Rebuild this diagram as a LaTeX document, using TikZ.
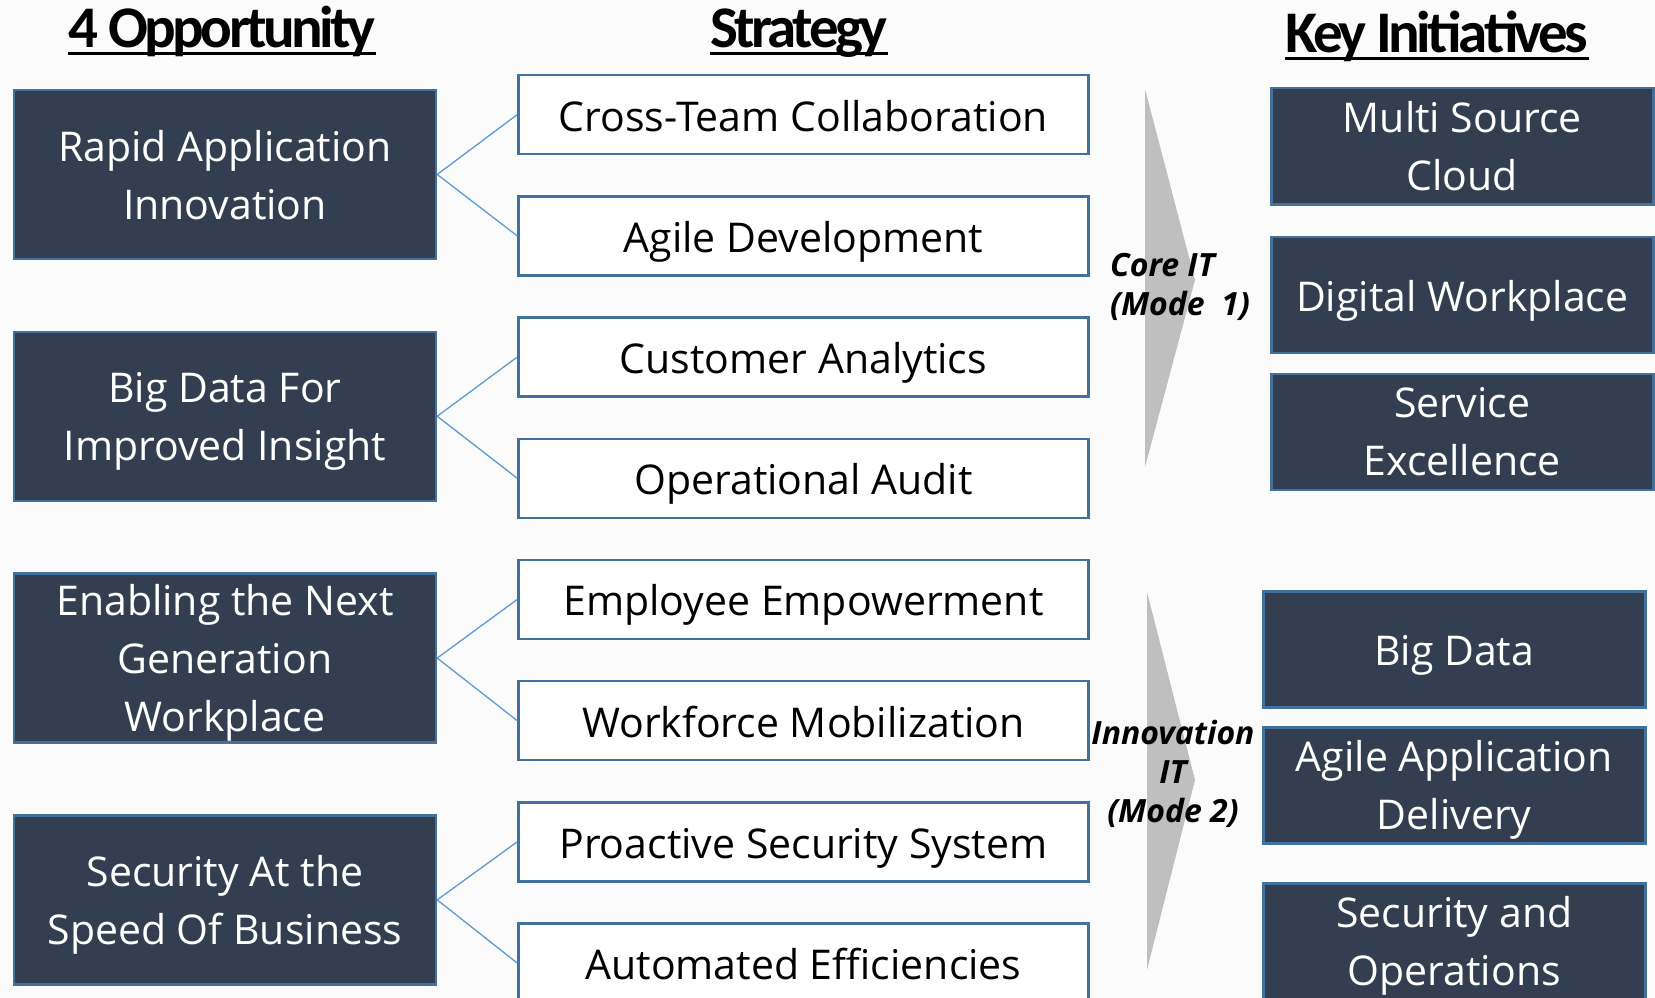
\documentclass[tikz,border=0pt]{standalone}
\usepackage{fontspec}
\setmainfont{Open Sans}
\newfontfamily\headfont[LetterSpace=-6]{Carlito}
\usetikzlibrary{positioning}
\definecolor{slate}{HTML}{333F50}
\definecolor{edgeblue}{HTML}{41719C}
\definecolor{linkblue}{HTML}{5B9BD5}
\definecolor{wedgegray}{HTML}{BFBFBF}

\begin{document}
\begin{tikzpicture}[x=1pt, y=-1pt]
\tikzset{BoxText/.style = {inner sep=0pt, text depth=0pt, execute at begin node={\rule{0pt}{33pt}}, font=\fontsize{41}{58}\selectfont}}
\tikzset{OppStyle/.style = {BoxText, draw=edgeblue, line width=2.5pt, fill=slate, text=white, minimum width=422pt, minimum height=169pt, align=center}}
\tikzset{StratStyle/.style = {BoxText, draw=edgeblue, line width=2.5pt, fill=white, minimum width=570pt, minimum height=79pt}}
\tikzset{KeyStyle/.style = {OppStyle, minimum width=382pt, minimum height=116pt}}
\tikzset{LinkStyle/.style = {draw=linkblue, line width=1.3pt}}
\tikzset{HeadStyle/.style = {inner sep=0pt, anchor=base, font=\headfont\bfseries\fontsize{59}{59}\selectfont}}
\tikzset{ModeStyle/.style = {inner sep=0pt, font=\bfseries\itshape\fontsize{32}{39}\selectfont}}
\clip (0,0) rectangle (1655,998);
\fill[white!97!gray] (0,0) rectangle (1655,998);
% headers
\node[HeadStyle] (HOpp) at (222,48) {4 Opportunity};
\node[HeadStyle] (HStrat) at (799,48) {Strategy};
\node[HeadStyle] (HKey) at (1437,53) {Key Initiatives};
\foreach \h in {HOpp,HStrat,HKey}
	\draw[line width=3pt] ([yshift=-6pt]\h.base west) -- ([yshift=-6pt]\h.base east);
% opportunities
\node[OppStyle, anchor=north west] (O1) at (12.7,88.7) {Rapid Application\\Innovation};
\node[OppStyle, below=70.3pt of O1] (O2) {Big Data For\\Improved Insight};
\node[OppStyle, below=70.3pt of O2] (O3) {Enabling the Next\\Generation\\Workplace};
\node[OppStyle, below=70.3pt of O3] (O4) {Security At the\\Speed Of Business};
% strategies
\node[StratStyle, anchor=north west] (S1) at (517.2,73.9) {Cross-Team Collaboration};
\node[StratStyle, below=39.7pt of S1] (S2) {Agile Development};
\node[StratStyle, below=39.7pt of S2] (S3) {Customer Analytics};
\node[StratStyle, below=39.7pt of S3] (S4) {Operational Audit};
\node[StratStyle, below=39.7pt of S4] (S5) {Employee Empowerment};
\node[StratStyle, below=39.7pt of S5] (S6) {Workforce Mobilization};
\node[StratStyle, below=39.7pt of S6] (S7) {Proactive Security System};
\node[StratStyle, below=39.7pt of S7] (S8) {Automated Efficiencies};
\path[LinkStyle]
	(O1.east) edge (S1.west)
	(O1.east) edge (S2.west)
	(O2.east) edge (S3.west)
	(O2.east) edge (S4.west)
	(O3.east) edge (S5.west)
	(O3.east) edge (S6.west)
	(O4.east) edge (S7.west)
	(O4.east) edge (S8.west)
	;
% mode wedges
\fill[wedgegray] (1145,89) -- (1195,280) -- (1145,467) -- cycle;
\fill[wedgegray] (1147,592) -- (1195,780) -- (1147,970) -- cycle;
\node[ModeStyle, align=left, anchor=west] (M1) at (1110,287) {Core IT\\(Mode~~1)};
\node[ModeStyle, align=center] (M2) at (1173,774) {Innovation\\IT\\(Mode 2)};
% key initiatives
\node[KeyStyle, anchor=north west] (K1) at (1270,87) {Multi Source\\Cloud};
\node[KeyStyle, below=30pt of K1] (K2) {Digital Workplace};
\node[KeyStyle, below=18.5pt of K2] (K3) {Service\\Excellence};
\node[KeyStyle, anchor=north west] (K4) at (1262,590) {Big Data};
\node[KeyStyle, below=17.5pt of K4] (K5) {Agile Application\\Delivery};
\node[KeyStyle, below=37.5pt of K5] (K6) {Security and\\Operations};
\end{tikzpicture}
\end{document}
